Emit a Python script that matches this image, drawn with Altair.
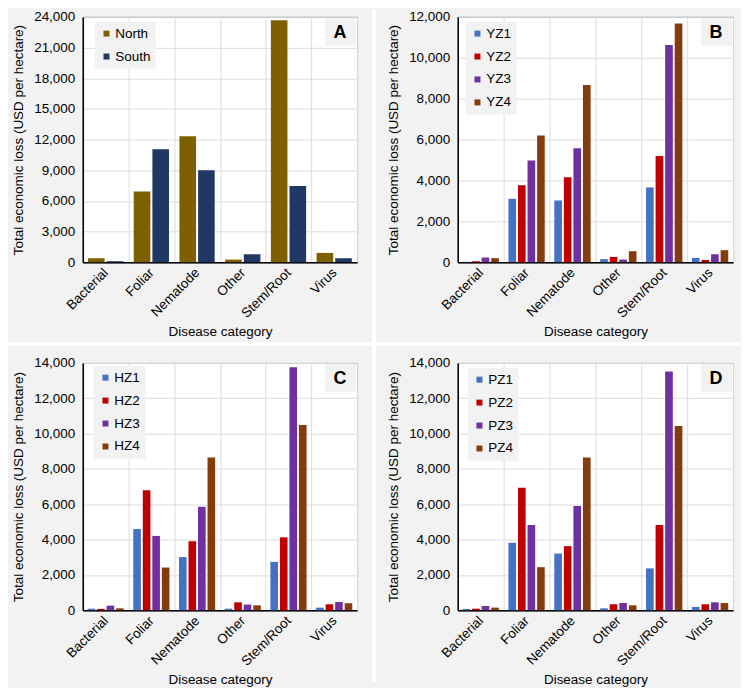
import altair as alt
import pandas as pd

categories = ["Bacterial", "Foliar", "Nematode", "Other", "Stem/Root", "Virus"]

# Panel A
a_names = ["North", "South"]
north = [390, 6930, 12330, 260, 23680, 910]
south = [100, 11060, 9010, 780, 7450, 390]
a_colors = ["#7f6000", "#203864"]
a_ticks = [0, 3000, 6000, 9000, 12000, 15000, 18000, 21000, 24000]

# Panel B
b_names = ["YZ1", "YZ2", "YZ3", "YZ4"]
yz1 = [20, 3100, 3020, 150, 3660, 210]
yz2 = [50, 3760, 4160, 260, 5200, 110]
yz3 = [230, 4980, 5580, 130, 10630, 390]
yz4 = [200, 6200, 8670, 540, 11680, 590]
b_ticks = [0, 2000, 4000, 6000, 8000, 10000, 12000]

# Panel C
c_names = ["HZ1", "HZ2", "HZ3", "HZ4"]
hz1 = [90, 4600, 3010, 90, 2740, 150]
hz2 = [75, 6800, 3910, 450, 4130, 340]
hz3 = [260, 4210, 5860, 320, 13760, 470]
hz4 = [110, 2420, 8650, 280, 10490, 400]
cd_ticks = [0, 2000, 4000, 6000, 8000, 10000, 12000, 14000]

# Panel D
d_names = ["PZ1", "PZ2", "PZ3", "PZ4"]
pz1 = [75, 3820, 3210, 110, 2370, 190]
pz2 = [90, 6940, 3630, 340, 4830, 340]
pz3 = [245, 4830, 5900, 410, 13520, 450]
pz4 = [150, 2440, 8650, 280, 10430, 410]

zone_colors = ["#4472c4", "#c00000", "#7030a0", "#843c0c"]

PANEL_BG = "#f2f2f2"
Y_TITLE = "Total economic loss (USD per hectare)"
X_TITLE = "Disease category"
FS = 13.5


def make_df(names, series):
    rows = []
    for name, vals in zip(names, series):
        for cat, v in zip(categories, vals):
            rows.append({"category": cat, "series": name, "value": v})
    return pd.DataFrame(rows)


def one_row():
    return pd.DataFrame({"k": [0]})


def panel(letter, names, series, colors, ticks, width, height, p_in, p_out,
          legend_x, legend_y, extra=None):
    df = make_df(names, series)
    bars = alt.Chart(df).mark_bar().encode(
        x=alt.X("category:N", sort=categories,
                scale=alt.Scale(paddingInner=0, paddingOuter=0),
                axis=alt.Axis(title=X_TITLE, labelAngle=-45, labelAlign="right",
                              labelBaseline="middle", tickBand="extent",
                              grid=True)),
        xOffset=alt.XOffset("series:N", sort=names,
                            scale=alt.Scale(paddingInner=p_in, paddingOuter=p_out)),
        y=alt.Y("value:Q", scale=alt.Scale(domain=[0, ticks[-1]], nice=False),
                axis=alt.Axis(title=Y_TITLE, values=ticks, format=",d")),
        color=alt.Color("series:N", sort=names,
                        scale=alt.Scale(domain=names, range=colors),
                        legend=alt.Legend(title=None, orient="none",
                                          legendX=legend_x, legendY=legend_y)),
    )
    box = alt.Chart(one_row()).mark_rect(color=PANEL_BG).encode(
        x=alt.value(width - 32), x2=alt.value(width - 1),
        y=alt.value(1), y2=alt.value(29))
    txt = alt.Chart(one_row()).mark_text(
        text=letter, fontSize=18, fontWeight="bold", align="center",
        baseline="middle", color="black").encode(
        x=alt.value(width - 17), y=alt.value(16))
    layers = [bars, box, txt]
    if extra:
        layers = extra + layers
    return alt.layer(*layers).properties(width=width, height=height)


# white separators between the four panels (drawn in panel A coordinates)
vsep = alt.Chart(one_row()).mark_rect(color="white").encode(
    x=alt.value(290), x2=alt.value(294), y=alt.value(-7), y2=alt.value(667))
hsep = alt.Chart(one_row()).mark_rect(color="white").encode(
    x=alt.value(-74), x2=alt.value(659), y=alt.value(326), y2=alt.value(330))

pA = panel("A", a_names, [north, south], a_colors, a_ticks, 275, 246, 0.11, 0.28,
           12, 5, extra=[vsep, hsep])
pB = panel("B", b_names, [yz1, yz2, yz3, yz4], zone_colors, b_ticks, 276, 246,
           0.2, 0.5, 8, 5)
pC = panel("C", c_names, [hz1, hz2, hz3, hz4], zone_colors, cd_ticks, 275, 248,
           0.2, 0.5, 11, 3)
pD = panel("D", d_names, [pz1, pz2, pz3, pz4], zone_colors, cd_ticks, 276, 248,
           0.2, 0.5, 10, 5)

chart = alt.concat(pA, pB, pC, pD, columns=2, spacing=101, bounds="flush",
                   align="each").resolve_scale(
    color="independent", xOffset="independent").resolve_legend(
    color="independent").properties(
    padding=0, background=PANEL_BG).configure(
    font="Liberation Sans").configure_view(
    stroke="#333333", strokeWidth=1, fill="white").configure_axis(
    labelFontSize=FS, titleFontSize=FS, titleFontWeight="normal",
    labelColor="black", titleColor="black", gridColor="#dcdcdc",
    gridWidth=1, domainColor="black", domainWidth=1.5, ticks=False,
    tickSize=0).configure_axisY(
    labelPadding=8, titlePadding=8).configure_axisX(
    labelPadding=8, titlePadding=5).configure_legend(
    fillColor=PANEL_BG, padding=5, symbolType="square", symbolSize=36,
    labelFontSize=FS, labelColor="black", rowPadding=8, labelOffset=2,
    symbolStrokeWidth=0)

chart.save("out.html", embed_options={"renderer": "svg", "actions": False})
